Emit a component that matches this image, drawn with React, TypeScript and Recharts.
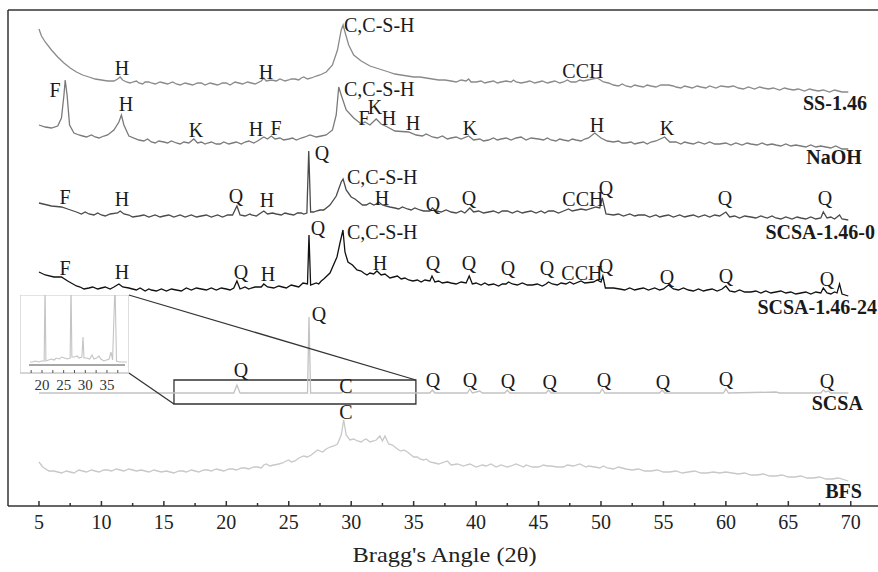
import React from 'react';
import { ComposedChart, Line, Scatter, XAxis, YAxis, ReferenceLine, ReferenceArea } from 'recharts';

// [2θ, intensity (offset-stacked, arbitrary units)] — main shape points
const ss146: [number, number][] = [
  [5.0, 477], [5.2, 470], [5.5, 464], [6.0, 456], [6.5, 449], [7.0, 443], [7.5, 438], [8.0, 434], [8.5, 431], [9.0, 429],
  [9.5, 427], [10.0, 426], [10.5, 425], [11.0, 425], [11.3, 427], [11.5, 429], [11.7, 426], [12.0, 424], [12.5, 424], [13.0, 423],
  [13.5, 424], [14, 423], [15, 423], [16, 422], [17, 422], [18, 423], [19, 422], [20, 423], [21, 423], [22, 423],
  [22.8, 425], [23.0, 428], [23.2, 425], [23.6, 426], [24, 425], [25, 426], [25.5, 427], [26, 428], [26.5, 427], [27, 429],
  [27.5, 431], [28, 434], [28.5, 441], [28.9, 456], [29.2, 476], [29.35, 481], [29.5, 474], [29.8, 461], [30.2, 451], [30.8, 445],
  [31.5, 440], [32.0, 438], [33, 434], [34, 431], [35, 429], [36, 428], [37, 426], [38, 425], [39.2, 425], [39.4, 427],
  [39.6, 424], [40, 424], [41, 424], [42, 424], [42.8, 424], [43.0, 426], [43.2, 424], [44, 424], [45, 424], [46, 424],
  [47, 424], [47.3, 426], [47.6, 424], [48.0, 424], [48.3, 426], [48.6, 425], [49.3, 427], [49.7, 428], [50.2, 424], [51, 421],
  [52, 420], [53, 420], [54, 420], [55.4, 421], [56, 419], [58, 419], [60.6, 420], [61, 418], [63, 418], [65, 417],
  [67, 416], [69, 415], [69.8, 414],
];
const ss146Noise: [number, number][] = [
  [12.3, 423], [12.8, 425], [13.3, 422], [13.8, 424], [14.3, 422], [14.7, 424], [15.3, 422], [15.7, 424], [16.3, 421], [16.7, 423],
  [17.3, 421], [17.7, 423], [18.3, 421], [18.7, 423], [19.3, 421], [19.7, 423], [20.3, 421], [20.7, 424], [21.3, 422], [21.7, 424],
  [22.3, 422], [24.3, 427], [24.7, 425], [25.2, 427], [25.8, 426], [26.2, 429], [26.8, 428], [27.2, 430], [33.5, 432], [34.5, 430],
  [35.5, 429], [36.5, 427], [37.5, 426], [38.4, 424], [38.8, 426], [40.4, 425], [40.7, 423], [41.4, 425], [41.7, 423], [42.4, 425],
  [43.6, 423], [44.3, 425], [44.7, 423], [45.3, 425], [45.7, 423], [46.3, 425], [46.7, 423], [50.6, 423], [51.4, 420], [51.7, 422],
  [52.4, 419], [52.7, 421], [53.4, 419], [53.7, 421], [54.4, 419], [54.8, 421], [55.8, 420], [56.4, 418], [56.7, 420], [57.3, 418],
  [57.7, 420], [58.4, 418], [58.7, 420], [59.2, 418], [59.6, 420], [60.2, 419], [61.4, 417], [61.8, 419], [62.3, 417], [62.7, 419],
  [63.4, 417], [63.8, 418], [64.3, 416], [64.7, 418], [65.4, 416], [65.8, 417], [66.3, 415], [66.7, 417], [67.4, 415], [67.8, 416],
  [68.3, 414], [68.7, 416], [69.3, 414],
];

const naoh: [number, number][] = [
  [5.0, 381], [5.5, 379], [6.0, 378], [6.5, 380], [6.8, 388], [7.0, 411], [7.1, 426], [7.25, 411], [7.45, 381], [7.8, 373],
  [8.5, 370], [9.5, 369], [10.5, 371], [11.0, 376], [11.4, 384], [11.6, 391], [11.8, 381], [12.2, 370], [13, 366], [14, 364],
  [15, 364], [16, 363], [17, 363], [17.4, 367], [17.7, 363], [18.5, 363], [19.5, 362], [20.5, 363], [21.5, 364], [22.5, 365],
  [23.0, 369], [23.3, 367], [23.6, 370], [23.9, 367], [25, 367], [26, 368], [26.7, 371], [27.2, 369], [28, 371], [28.5, 376],
  [28.8, 391], [29.0, 419], [29.2, 411], [29.6, 396], [30.2, 388], [30.8, 382], [31.1, 384], [31.5, 381], [32.0, 387], [32.4, 382],
  [32.9, 379], [33.5, 375], [34.6, 374], [35.2, 371], [36.5, 369], [38, 368], [39.4, 370], [39.8, 366], [41, 366], [42, 367],
  [43.6, 369], [45, 367], [46, 366], [47, 366], [48, 366], [49, 368], [49.5, 373], [50.0, 368], [51, 364], [52, 363],
  [53, 363], [54, 364], [55.1, 369], [55.5, 364], [57, 363], [59.5, 362], [62, 362], [64, 361], [66, 360], [68, 359],
  [69.8, 357],
];
const naohNoise: [number, number][] = [
  [8.2, 371], [8.8, 369], [9.2, 371], [9.8, 368], [10.2, 370], [13.4, 365], [13.7, 367], [14.3, 363], [14.6, 365], [15.3, 363],
  [15.6, 365], [16.3, 362], [16.6, 364], [18.0, 364], [18.3, 362], [18.8, 364], [19.2, 362], [19.8, 364], [20.2, 362], [20.8, 364],
  [21.2, 362], [21.8, 365], [22.2, 363], [24.3, 368], [24.6, 366], [25.3, 368], [25.6, 366], [26.3, 369], [27.6, 370], [35.7, 370],
  [36.0, 372], [36.9, 368], [37.3, 370], [37.7, 367], [38.4, 369], [38.8, 367], [40.3, 367], [40.6, 365], [41.4, 368], [41.7, 366],
  [42.4, 368], [42.8, 366], [43.2, 368], [44.0, 366], [44.4, 368], [45.4, 366], [45.7, 368], [46.4, 365], [46.7, 367], [47.4, 365],
  [47.7, 367], [48.4, 365], [48.7, 367], [50.5, 365], [51.4, 365], [51.7, 363], [52.4, 364], [52.7, 362], [53.4, 364], [53.7, 362],
  [54.4, 365], [56.0, 364], [56.4, 362], [56.7, 364], [57.4, 362], [57.8, 364], [58.3, 362], [58.7, 364], [59.1, 362], [60.0, 363],
  [60.4, 361], [60.8, 363], [61.3, 361], [61.7, 363], [62.5, 361], [62.9, 363], [63.3, 361], [63.7, 362], [64.4, 360], [64.8, 362],
  [65.2, 360], [65.6, 361], [66.4, 359], [66.8, 361], [67.2, 359], [67.6, 360], [68.4, 358], [68.8, 360], [69.3, 357],
];

const scsa146_0: [number, number][] = [
  [5.0, 303], [6.0, 300], [6.8, 299], [7.3, 297], [8, 294], [9, 292], [10, 291], [11.3, 293], [11.5, 295], [11.8, 292],
  [13, 290], [15, 290], [18, 290], [20.5, 291], [20.85, 300], [21.1, 291], [22, 291], [23.0, 295], [23.3, 292], [24, 292],
  [25, 292], [26, 293], [26.45, 293], [26.6, 355], [26.75, 294], [27.2, 295], [27.8, 296], [28.3, 301], [28.8, 310], [29.2, 324],
  [29.35, 327], [29.6, 316], [30.0, 309], [30.6, 304], [31.2, 301], [32.0, 302], [32.2, 304], [32.5, 301], [33.5, 298], [34.5, 297],
  [35.5, 296], [36.3, 295], [36.5, 298], [36.8, 295], [38, 294], [39.5, 298], [39.8, 294], [41, 294], [42.5, 295], [44, 294], [45.8, 295],
  [47, 295], [47.4, 297], [47.7, 295], [48.4, 297], [48.8, 296], [49.6, 299], [49.9, 298], [50.1, 308], [50.4, 292], [51, 291],
  [53, 291], [55, 290], [57, 290], [59.5, 290], [60.0, 294], [60.3, 289], [62, 289], [64, 288], [66, 288], [67.6, 288],
  [67.8, 294], [68.1, 288], [68.9, 289], [69.1, 291], [69.3, 287], [69.8, 286],
];
const scsa146_0Noise: [number, number][] = [
  [8.4, 292], [8.7, 294], [9.4, 291], [9.7, 293], [10.3, 290], [10.7, 292], [12.2, 291], [12.5, 289], [13.4, 291], [13.8, 289],
  [14.3, 291], [14.7, 289], [15.4, 291], [15.8, 289], [16.3, 291], [16.7, 289], [17.2, 291], [17.6, 289], [18.4, 291], [18.8, 289],
  [19.3, 291], [19.7, 289], [20.1, 291], [21.5, 290], [21.9, 292], [22.4, 290], [23.7, 293], [24.4, 291], [24.7, 293], [25.4, 291],
  [25.7, 293], [26.2, 292], [27.0, 294], [27.5, 296], [30.3, 307], [30.9, 301], [31.5, 303], [31.8, 301], [32.8, 300], [33.1, 299],
  [33.8, 297], [34.1, 299], [34.8, 296], [35.1, 298], [35.8, 295], [37.2, 294], [37.6, 296], [38.4, 293], [38.8, 295], [39.1, 293],
  [40.2, 295], [40.6, 293], [41.4, 295], [41.8, 293], [42.1, 295], [42.9, 293], [43.3, 295], [43.7, 293], [44.4, 295], [44.8, 293],
  [45.2, 295], [45.5, 293], [46.2, 295], [46.6, 293], [51.4, 292], [51.8, 290], [52.3, 292], [52.7, 290], [53.5, 291], [53.9, 289],
  [54.4, 291], [54.7, 289], [55.4, 291], [55.8, 289], [56.3, 291], [56.7, 289], [57.4, 291], [57.8, 289], [58.3, 291], [58.7, 289],
  [59.1, 291], [60.7, 290], [61.1, 288], [61.5, 290], [62.4, 288], [62.8, 290], [63.3, 288], [63.7, 290], [64.4, 287], [64.8, 289],
  [65.3, 287], [65.7, 289], [66.4, 287], [66.8, 289], [67.2, 287], [68.4, 289], [68.7, 287],
];

const scsa146_24: [number, number][] = [
  [5.0, 234], [5.5, 231], [6.2, 229], [6.8, 229], [7.3, 225], [8, 220], [9, 218], [10, 218], [11, 219], [11.4, 222],
  [11.7, 219], [12.5, 217], [14, 216], [16, 216], [18, 217], [20, 217], [20.6, 218], [20.85, 225], [21.1, 217], [22, 218],
  [22.8, 219], [23.0, 222], [23.3, 219], [24.5, 219], [25.5, 220], [26.14, 223], [26.5, 222], [26.62, 271], [26.75, 221], [27.2, 223],
  [27.8, 227], [28.3, 233], [28.86, 249], [29.1, 263], [29.34, 276], [29.5, 254], [29.74, 244], [30.46, 236], [31.26, 231], [32.06, 235],
  [32.4, 231], [33.1, 228], [34.94, 225], [36.3, 225], [36.47, 230], [36.7, 224], [38, 223], [39.2, 223], [39.45, 230], [39.7, 222],
  [41, 221], [42.4, 222], [42.6, 224], [42.9, 222], [44.5, 221], [45.6, 222], [45.8, 224], [46.1, 222], [47.2, 222], [47.5, 224],
  [47.8, 222], [48.4, 225], [48.7, 223], [49.4, 224], [49.7, 226], [50.0, 224], [50.15, 230], [50.35, 218], [51.5, 217], [53, 217],
  [55.0, 217], [55.4, 221], [55.8, 217], [57, 216], [58.5, 216], [60.0, 220], [60.3, 215], [62, 214], [64, 214], [66, 213],
  [67.6, 213], [67.8, 218], [68.1, 213], [68.9, 213], [69.1, 222], [69.3, 212], [69.8, 210],
];
const scsa146_24Noise: [number, number][] = [
  [8.3, 219], [8.6, 217], [9.3, 219], [9.7, 217], [10.3, 219], [10.7, 217], [12.2, 218], [12.8, 216], [13.1, 218], [13.5, 215],
  [13.8, 217], [14.4, 215], [14.8, 217], [15.2, 215], [15.6, 217], [16.4, 215], [16.8, 218], [17.2, 216], [17.6, 218], [18.4, 216],
  [18.8, 218], [19.2, 216], [19.6, 218], [20.3, 216], [21.5, 219], [21.8, 217], [22.3, 219], [23.8, 218], [24.2, 220], [24.8, 218],
  [25.2, 221], [25.8, 219], [27.4, 222], [27.6, 225], [30.1, 241], [30.8, 235], [31.0, 233], [31.5, 233], [31.8, 232], [32.7, 232],
  [33.4, 229], [33.7, 230], [34.0, 227], [34.3, 228], [34.6, 226], [35.3, 226], [35.6, 224], [35.9, 226], [37.0, 225], [37.3, 223],
  [37.7, 224], [38.4, 222], [38.8, 224], [40.0, 223], [40.4, 221], [40.7, 223], [41.4, 222], [41.8, 220], [42.1, 222], [43.3, 221],
  [43.7, 223], [44.1, 221], [44.9, 222], [45.3, 220], [46.5, 221], [46.8, 223], [51.0, 218], [51.9, 216], [52.3, 218], [52.7, 216],
  [53.4, 218], [53.8, 216], [54.3, 218], [54.7, 216], [56.2, 216], [56.6, 218], [57.4, 215], [57.8, 217], [58.2, 215], [58.9, 217],
  [59.3, 215], [59.7, 217], [60.7, 214], [61.1, 216], [61.5, 214], [62.4, 215], [62.8, 213], [63.2, 215], [63.6, 213], [64.4, 215],
  [64.8, 213], [65.2, 214], [65.6, 212], [66.4, 214], [66.8, 212], [67.2, 214], [68.4, 212], [68.7, 214],
];

const scsa: [number, number][] = [
  [5.0, 113], [12, 113], [20.6, 113], [20.85, 121], [21.1, 113], [26.5, 113], [26.62, 189], [26.75, 113], [29.2, 113], [29.4, 115],
  [29.6, 113], [36.3, 113], [36.5, 116], [36.7, 113], [39.3, 113], [39.5, 117], [39.7, 113], [40.3, 115], [40.5, 113], [42.3, 113],
  [42.5, 116], [42.7, 113], [45.6, 113], [45.8, 116], [46.0, 113], [49.9, 113], [50.1, 117], [50.3, 113], [54.7, 113], [54.9, 116],
  [55.1, 113], [59.8, 113], [60.0, 117], [60.2, 113], [64.0, 114], [64.3, 113], [67.6, 113], [67.8, 116], [68.0, 114], [68.2, 115],
  [68.4, 113], [69.8, 113],
];

const bfs: [number, number][] = [
  [5.0, 44], [5.3, 39], [5.8, 35], [6.5, 34], [7.5, 34], [8.5, 35], [9.5, 35], [10.5, 36], [11.5, 36], [12.5, 36],
  [13.5, 35], [14.5, 35], [15.5, 34], [16.5, 35], [17.5, 35], [18.5, 36], [19.5, 36], [20.5, 37], [21.5, 38], [22.5, 39],
  [23, 41], [23.5, 40], [24.5, 43], [25.0, 46], [25.5, 45], [26.2, 50], [26.8, 51], [27.3, 56], [27.7, 54], [28.3, 59],
  [28.9, 62], [29.2, 71], [29.4, 86], [29.6, 71], [29.9, 66], [30.5, 65], [31.0, 66], [31.5, 64], [32.0, 66], [32.3, 70],
  [32.5, 65], [32.7, 70], [33.0, 62], [33.5, 59], [34.0, 55], [34.5, 54], [35.0, 49], [35.5, 47], [36.3, 44], [37.0, 42],
  [37.7, 45], [38.0, 41], [39.0, 40], [39.5, 42], [40.0, 39], [41.2, 42], [41.6, 39], [42.5, 39], [43.2, 42], [43.8, 39],
  [44.5, 39], [45.7, 40], [46.5, 39], [47.3, 41], [47.8, 40], [48.3, 42], [48.8, 39], [49.5, 39], [50.5, 38], [51.7, 38],
  [52.5, 36], [54.0, 35], [55.5, 34], [57, 34], [58.5, 33], [60.0, 34], [60.5, 33], [62, 31], [63.5, 30], [65, 29],
  [66.5, 28], [68, 27], [69.8, 25],
];
const bfsNoise: [number, number][] = [
  [6.2, 35], [6.8, 33], [7.2, 35], [7.8, 33], [8.2, 36], [8.8, 34], [9.2, 36], [9.8, 34], [10.2, 36], [10.8, 35],
  [11.2, 37], [11.8, 35], [12.2, 37], [12.8, 35], [13.2, 36], [13.8, 34], [14.2, 36], [14.8, 34], [15.2, 35], [15.8, 33],
  [16.2, 35], [16.8, 34], [17.2, 36], [17.8, 34], [18.2, 36], [18.8, 35], [19.2, 37], [19.8, 35], [20.2, 37], [20.8, 36],
  [21.2, 38], [21.8, 37], [22.2, 39], [22.8, 38], [23.2, 42], [23.8, 41], [24.2, 42], [24.8, 45], [25.2, 44], [25.8, 48],
  [26.5, 49], [27.0, 53], [28.0, 57], [28.6, 60], [30.2, 67], [30.8, 64], [31.2, 67], [31.8, 65], [33.3, 61], [33.8, 56],
  [34.2, 56], [34.8, 51], [35.3, 49], [35.8, 46], [36.0, 47], [36.7, 43], [38.5, 42], [39.2, 41], [40.5, 41], [40.8, 40],
  [42.0, 41], [42.8, 40], [44.0, 41], [45.0, 39], [45.4, 41], [46.0, 40], [47.0, 39], [49.0, 40], [49.9, 38], [50.2, 40],
  [51.0, 37], [51.4, 39], [52.0, 37], [53.0, 37], [53.5, 35], [54.5, 36], [55.0, 34], [56.0, 35], [56.5, 33], [57.5, 35],
  [58.0, 33], [59.0, 34], [59.5, 33], [61.0, 32], [61.5, 33], [62.5, 31], [63.0, 32], [64.0, 30], [64.5, 31], [65.5, 29],
  [66.0, 30], [67.0, 28], [67.5, 29], [68.5, 27], [69.0, 28],
];

// inset (zoomed SCSA), [2θ, intensity]
const insetScsa: [number, number][] = [
  [17.23, 11], [17.8, 11], [18.5, 12], [19.2, 11], [19.9, 12], [20.5, 12], [20.7, 90], [20.9, 12], [21.5, 13], [22.2, 14],
  [22.8, 13], [23.3, 15], [24.0, 14], [24.6, 16], [25.2, 15], [25.8, 14], [26.5, 15], [26.7, 90], [26.9, 16], [27.5, 16],
  [28.1, 17], [28.6, 15], [29.2, 16], [29.47, 36], [29.7, 15], [30.3, 15], [31.0, 14], [31.55, 18], [32.0, 14], [32.6, 15],
  [33.16, 17], [33.6, 14], [34.3, 12], [34.9, 13], [35.5, 14], [35.93, 21], [36.3, 13], [36.86, 90], [37.2, 12], [37.9, 11],
  [38.5, 11], [39.6, 11],
];

const mainTicks = [5, 7.5, 10, 12.5, 15, 17.5, 20, 22.5, 25, 27.5, 30, 32.5, 35, 37.5, 40, 42.5, 45, 47.5, 50, 52.5, 55, 57.5, 60, 62.5, 65, 67.5, 70];
const insetTicks = [17.5, 20, 22.5, 25, 27.5, 30, 32.5, 35, 37.5];

const peakLabels = [
  { t: 11.65, v: 438, text: 'H' }, { t: 23.17, v: 434, text: 'H' }, { t: 48.55, v: 435, text: 'CCH' },
  { t: 6.28, v: 416, text: 'F' }, { t: 11.97, v: 402, text: 'H' }, { t: 17.57, v: 376, text: 'K' }, { t: 22.37, v: 377, text: 'H' },
  { t: 23.98, v: 378, text: 'F' }, { t: 31.02, v: 388, text: 'F' }, { t: 31.9, v: 399, text: 'K' }, { t: 33.02, v: 388, text: 'H' },
  { t: 34.94, v: 383, text: 'H' }, { t: 39.5, v: 378, text: 'K' }, { t: 49.68, v: 381, text: 'H' }, { t: 55.28, v: 378, text: 'K' },
  { t: 7.08, v: 309, text: 'F' }, { t: 11.65, v: 307, text: 'H' }, { t: 20.77, v: 310, text: 'Q' }, { t: 23.25, v: 306, text: 'H' },
  { t: 27.66, v: 353, text: 'Q' }, { t: 32.46, v: 308, text: 'H' }, { t: 36.55, v: 302, text: 'Q' }, { t: 39.43, v: 308, text: 'Q' },
  { t: 48.55, v: 307, text: 'CCH' }, { t: 50.4, v: 318, text: 'Q' }, { t: 59.92, v: 308, text: 'Q' }, { t: 67.93, v: 308, text: 'Q' },
  { t: 7.08, v: 238, text: 'F' }, { t: 11.65, v: 234, text: 'H' }, { t: 21.17, v: 234, text: 'Q' }, { t: 23.33, v: 232, text: 'H' },
  { t: 27.34, v: 278, text: 'Q' }, { t: 32.3, v: 243, text: 'H' }, { t: 36.55, v: 243, text: 'Q' }, { t: 39.43, v: 243, text: 'Q' },
  { t: 42.55, v: 238, text: 'Q' }, { t: 45.67, v: 238, text: 'Q' }, { t: 48.47, v: 233, text: 'CCH' }, { t: 50.4, v: 240, text: 'Q' },
  { t: 55.28, v: 229, text: 'Q' }, { t: 60.0, v: 230, text: 'Q' }, { t: 68.09, v: 227, text: 'Q' },
  { t: 21.17, v: 136, text: 'Q' }, { t: 27.42, v: 192, text: 'Q' }, { t: 29.58, v: 120, text: 'C' }, { t: 36.55, v: 126, text: 'Q' },
  { t: 39.5, v: 126, text: 'Q' }, { t: 42.55, v: 125, text: 'Q' }, { t: 45.9, v: 124, text: 'Q' }, { t: 50.24, v: 126, text: 'Q' },
  { t: 54.96, v: 124, text: 'Q' }, { t: 60.0, v: 127, text: 'Q' }, { t: 68.09, v: 125, text: 'Q' },
  { t: 29.58, v: 94, text: 'C' },
];

const cshLabels = [
  { t: 29.42, v: 481, text: 'C,C-S-H' },
  { t: 29.42, v: 417, text: 'C,C-S-H' },
  { t: 29.66, v: 329, text: 'C,C-S-H' },
  { t: 29.66, v: 274, text: 'C,C-S-H' },
];

const seriesNames = [
  { t: 71.29, v: 403, text: 'SS-1.46' },
  { t: 70.89, v: 349, text: 'NaOH' },
  { t: 71.93, v: 274, text: 'SCSA-1.46-0' },
  { t: 72.09, v: 199, text: 'SCSA-1.46-24' },
  { t: 70.97, v: 103, text: 'SCSA' },
  { t: 70.89, v: 15, text: 'BFS' },
];

const merge = (a: [number, number][], b: [number, number][]) => [...a, ...b].sort((p, q) => p[0] - q[0]);

const series = [
  { name: 'SS-1.46', data: merge(ss146, ss146Noise), color: '#8a8a8a' },
  { name: 'NaOH', data: merge(naoh, naohNoise), color: '#7a7a7a' },
  { name: 'SCSA-1.46-0', data: merge(scsa146_0, scsa146_0Noise), color: '#4a4a4a' },
  { name: 'SCSA-1.46-24', data: merge(scsa146_24, scsa146_24Noise), color: '#111111' },
  { name: 'SCSA', data: scsa, color: '#c2c2c2' },
  { name: 'BFS', data: merge(bfs, bfsNoise), color: '#c8c8c8' },
];

const FONT = '"Liberation Serif", "Times New Roman", serif';
const pts = (a: [number, number][]) => a.map(([t, v]) => ({ t, v }));

const MainTick = (props: any) => {
  const { x, y, payload } = props;
  const major = Math.abs(payload.value % 5) < 1e-6;
  return (
    <g>
      <line x1={x} x2={x} y1={y} y2={y - (major ? 5 : 3)} stroke="#333" strokeWidth={1.5} />
      {major && (
        <text x={x} y={y + 16} textAnchor="middle" dominantBaseline="central" fontSize={20} fontFamily={FONT} fill="#222">
          {payload.value}
        </text>
      )}
    </g>
  );
};

const InsetTick = (props: any) => {
  const { x, y, payload } = props;
  const major = Math.abs(payload.value % 5) < 1e-6;
  return (
    <g>
      <line x1={x} x2={x} y1={y} y2={y - 3} stroke="#555" strokeWidth={1} />
      {major && (
        <text x={x} y={y + 12} textAnchor="middle" dominantBaseline="central" fontSize={15} fontFamily={FONT} fill="#333">
          {payload.value}
        </text>
      )}
    </g>
  );
};

const AxisTitle = (props: any) => {
  const vb = props.viewBox || { x: 8, y: 506, width: 873, height: 66 };
  return (
    <text
      x={vb.x + vb.width / 2}
      y={vb.y + 48}
      textAnchor="middle"
      dominantBaseline="central"
      fontSize={22}
      fontFamily={FONT}
      fill="#222"
      textLength={184}
      lengthAdjust="spacingAndGlyphs"
    >
      Bragg's Angle (2θ)
    </text>
  );
};

const makeTextShape = (anchor: string, bold: boolean, size: number) => (p: any) => (
  <text
    x={p.cx}
    y={p.cy}
    textAnchor={anchor}
    dominantBaseline="central"
    fontSize={size}
    fontWeight={bold ? 'bold' : 'normal'}
    fontFamily={FONT}
    fill="#1a1a1a"
  >
    {p.payload.text}
  </text>
);

export default function App() {
  return (
    <div style={{ position: 'absolute', left: 0, top: 0, width: 878, height: 572, overflow: 'hidden', background: '#fff' }}>
      <ComposedChart width={890} height={572} margin={{ top: 10, right: 9, bottom: 0, left: 8 }}>
        <XAxis
          type="number"
          dataKey="t"
          domain={[2.52, 72.42]}
          allowDataOverflow
          ticks={mainTicks}
          interval={0}
          tickSize={0}
          tickMargin={0}
          tickLine={false}
          tick={<MainTick />}
          height={66}
          axisLine={{ stroke: '#333', strokeWidth: 1.5 }}
          label={{ content: (p: any) => <AxisTitle {...p} /> }}
        />
        <YAxis type="number" dataKey="v" domain={[0, 496]} allowDataOverflow hide />
        <ReferenceLine x={2.52} stroke="#333" strokeWidth={1.5} />
        <ReferenceLine y={496} stroke="#333" strokeWidth={1.5} />
        {series.map((s) => (
          <Line
            key={s.name}
            data={pts(s.data)}
            dataKey="v"
            type="linear"
            stroke={s.color}
            strokeWidth={1.3}
            dot={false}
            isAnimationActive={false}
          />
        ))}
        <ReferenceArea x1={15.81} x2={35.18} y1={102} y2={126} fill="none" fillOpacity={0} stroke="#333" strokeWidth={1.3} />
        <ReferenceLine segment={[{ x: 12.2, y: 211 }, { x: 35.18, y: 126 }]} stroke="#333" strokeWidth={1.3} />
        <ReferenceLine segment={[{ x: 12.2, y: 133 }, { x: 15.81, y: 102 }]} stroke="#333" strokeWidth={1.3} />
        <Scatter data={peakLabels} dataKey="v" isAnimationActive={false} shape={makeTextShape('middle', false, 20)} />
        <Scatter data={cshLabels} dataKey="v" isAnimationActive={false} shape={makeTextShape('start', false, 20)} />
        <Scatter data={seriesNames} dataKey="v" isAnimationActive={false} shape={makeTextShape('end', true, 20)} />
      </ComposedChart>
      <div style={{ position: 'absolute', left: 20, top: 295 }}>
        <ComposedChart width={109} height={100} margin={{ top: 0, right: 0, bottom: 0, left: 0 }}>
          <XAxis
            type="number"
            dataKey="t"
            domain={[14.92, 40.09]}
            allowDataOverflow
            ticks={insetTicks}
            interval={0}
            tickSize={0}
            tickMargin={0}
            tickLine={false}
            tick={<InsetTick />}
            height={22}
            axisLine={{ stroke: '#c8c8c8', strokeWidth: 1.2 }}
          />
          <YAxis type="number" dataKey="v" domain={[0, 78]} allowDataOverflow hide />
          <ReferenceArea x1={14.92} x2={40.09} y1={0} y2={78} fill="none" fillOpacity={0} stroke="#c8c8c8" strokeWidth={1.2} />
          <ReferenceLine segment={[{ x: 17.0, y: 8 }, { x: 39.17, y: 8 }]} stroke="#8a8a8a" strokeWidth={1.5} />
          <Line data={pts(insetScsa)} dataKey="v" type="linear" stroke="#c4c4c4" strokeWidth={1.1} dot={false} isAnimationActive={false} />
        </ComposedChart>
      </div>
    </div>
  );
}
